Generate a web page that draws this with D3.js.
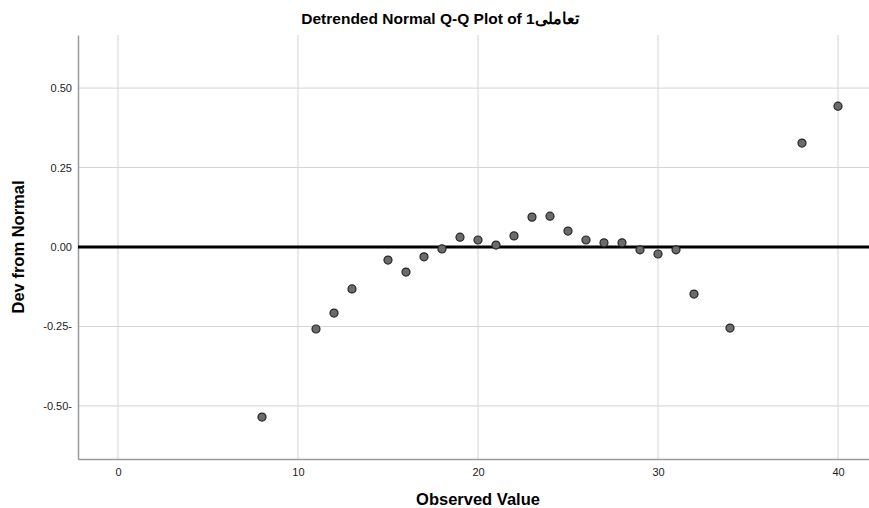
<!DOCTYPE html>
<html>
<head>
<meta charset="utf-8">
<script src="https://cdn.jsdelivr.net/npm/d3@7"></script>
<style>
  body { margin: 0; background: #fff; }
  text { font-family: "Liberation Sans", Arial, sans-serif; }
</style>
</head>
<body>
<div id="chart"></div>
<script>
// data
const observed = [8, 11, 12, 13, 15, 16, 17, 18, 19, 20, 21, 22, 23, 24, 25, 26, 27, 28, 29, 30, 31, 32, 34, 38, 40];
const deviation = [-0.535, -0.258, -0.208, -0.132, -0.041, -0.079, -0.031, -0.006, 0.031, 0.022, 0.006, 0.035,
  0.094, 0.097, 0.050, 0.022, 0.013, 0.013, -0.009, -0.022, -0.009, -0.148, -0.255, 0.327, 0.443];
const xTicks = [0, 10, 20, 30, 40];
const yTicks = [-0.5, -0.25, 0, 0.25, 0.5];
const yTickLabels = ["-0.50-", "-0.25-", "0.00", "0.25", "0.50"];

const width = 869, height = 508;
const margin = { top: 35, right: 0, bottom: 49, left: 78 };

const x = d3.scaleLinear()
  .domain([-2.222, 41.722])
  .range([margin.left, width - margin.right]);

const y = d3.scaleLinear()
  .domain([-0.667, 0.667])
  .range([height - margin.bottom, margin.top]);

const svg = d3.select("#chart")
  .append("svg")
  .attr("width", width)
  .attr("height", height);

// grid
svg.append("g")
  .selectAll("line")
  .data(xTicks)
  .join("line")
  .attr("x1", d => x(d)).attr("x2", d => x(d))
  .attr("y1", margin.top).attr("y2", height - margin.bottom)
  .attr("stroke", "#d4d4d4").attr("stroke-width", 1);

svg.append("g")
  .selectAll("line")
  .data(yTicks.filter(d => d !== 0))
  .join("line")
  .attr("x1", margin.left).attr("x2", width - margin.right)
  .attr("y1", d => y(d)).attr("y2", d => y(d))
  .attr("stroke", "#d4d4d4").attr("stroke-width", 1);

// axes
const xAxis = d3.axisBottom(x).tickValues(xTicks).tickSize(0).tickPadding(9);
svg.append("g")
  .attr("transform", `translate(0,${height - margin.bottom})`)
  .call(xAxis)
  .call(g => g.select(".domain").attr("stroke", "#9a9a9a").attr("stroke-width", 1.5))
  .call(g => g.selectAll("text").attr("font-size", 11).attr("fill", "#222"));

const yAxis = d3.axisLeft(y).tickValues(yTicks).tickSize(0).tickPadding(6)
  .tickFormat((d, i) => yTickLabels[i]);
svg.append("g")
  .attr("transform", `translate(${margin.left},0)`)
  .call(yAxis)
  .call(g => g.select(".domain").attr("stroke", "#9a9a9a").attr("stroke-width", 1.5))
  .call(g => g.selectAll("text").attr("font-size", 11).attr("fill", "#222"));

// zero reference line
svg.append("line")
  .attr("x1", margin.left).attr("x2", width - margin.right)
  .attr("y1", y(0)).attr("y2", y(0))
  .attr("stroke", "#000").attr("stroke-width", 3);

// points
svg.append("g")
  .selectAll("circle")
  .data(observed)
  .join("circle")
  .attr("cx", d => x(d))
  .attr("cy", (d, i) => y(deviation[i]))
  .attr("r", 4)
  .attr("fill", "#6b6b6b")
  .attr("stroke", "#262626")
  .attr("stroke-width", 1.2);

// titles
svg.append("text")
  .attr("x", 440).attr("y", 24)
  .attr("text-anchor", "middle")
  .attr("font-size", 15.5).attr("font-weight", "bold")
  .text("Detrended Normal Q-Q Plot of تعاملی1");

svg.append("text")
  .attr("x", x(20)).attr("y", 505)
  .attr("text-anchor", "middle")
  .attr("font-size", 16.5).attr("font-weight", "bold")
  .text("Observed Value");

svg.append("text")
  .attr("transform", `translate(24,${y(0)}) rotate(-90)`)
  .attr("text-anchor", "middle")
  .attr("font-size", 16.5).attr("font-weight", "bold")
  .text("Dev from Normal");
</script>
</body>
</html>
